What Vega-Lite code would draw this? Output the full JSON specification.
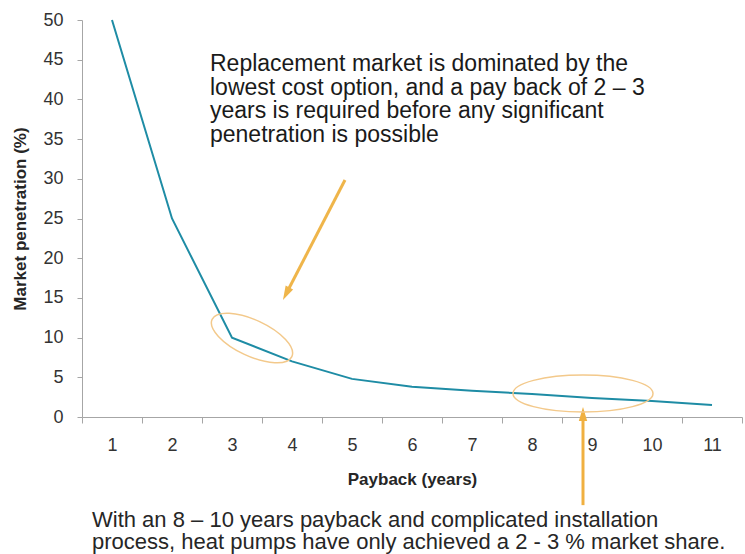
{
  "$schema": "https://vega.github.io/schema/vega-lite/v6.json",
  "width": 660,
  "height": 397,
  "autosize": "none",
  "padding": {"left": 82, "top": 20, "right": 3, "bottom": 137},
  "background": "white",
  "config": {"view": {"stroke": null}, "font": "Liberation Sans"},
  "title": {
    "text": ["With an 8 – 10 years payback and complicated  installation", "process, heat pumps have only achieved a 2 - 3 % market share."],
    "orient": "bottom",
    "anchor": "start",
    "frame": "group",
    "dx": 10,
    "offset": 3,
    "fontSize": 22,
    "fontWeight": "normal",
    "color": "#262626",
    "lineHeight": 22,
    "font": "Liberation Sans"
  },
  "layer": [
    {
      "data": {"values": [
        {"payback": 1, "penetration": 50},
        {"payback": 2, "penetration": 25},
        {"payback": 3, "penetration": 10},
        {"payback": 4, "penetration": 7},
        {"payback": 5, "penetration": 4.8},
        {"payback": 6, "penetration": 3.8},
        {"payback": 7, "penetration": 3.3},
        {"payback": 8, "penetration": 2.9},
        {"payback": 9, "penetration": 2.4},
        {"payback": 10, "penetration": 2.0},
        {"payback": 11, "penetration": 1.5}
      ]},
      "mark": {"type": "line", "color": "#1E8CA5", "strokeWidth": 2},
      "encoding": {
        "x": {
          "field": "payback", "type": "ordinal",
          "scale": {"type": "band", "paddingInner": 0, "paddingOuter": 0},
          "axis": {
            "title": "Payback (years)", "titleFontSize": 17, "titleFontWeight": "bold", "titleColor": "#262626",
            "titlePadding": 17,
            "labelAngle": 0, "labelFontSize": 18, "labelColor": "#333333", "labelPadding": 13,
            "tickBand": "extent", "tickSize": 6, "tickColor": "#A6A6A6", "domainColor": "#A6A6A6",
            "grid": false
          }
        },
        "y": {
          "field": "penetration", "type": "quantitative",
          "scale": {"domain": [0, 50]},
          "axis": {
            "orient": "left",
            "title": "Market penetration (%)", "titleFontSize": 17, "titleFontWeight": "bold", "titleColor": "#262626",
            "titlePadding": 13,
            "values": [0, 5, 10, 15, 20, 25, 30, 35, 40, 45, 50],
            "labelOverlap": false,
            "labelFontSize": 18, "labelColor": "#333333", "labelPadding": 14,
            "tickSize": 5, "tickColor": "#A6A6A6", "domainColor": "#A6A6A6",
            "grid": false
          }
        }
      }
    },
    {
      "data": {"values": [
        {"x": 2.633, "y": 43.57, "label": "Replacement market is dominated by the\nlowest cost option, and a pay back of 2 – 3\nyears is required before any significant\npenetration is possible"}
      ]},
      "mark": {"type": "text", "align": "left", "baseline": "alphabetic", "fontSize": 23, "lineHeight": 23.5, "lineBreak": "\n", "color": "#1a1a1a"},
      "encoding": {
        "x": {"field": "x", "type": "quantitative", "scale": {"domain": [0.5, 11.5]}, "axis": null},
        "y": {"field": "y", "type": "quantitative", "scale": {"domain": [0, 50]}, "axis": null},
        "text": {"field": "label"}
      }
    },
    {
      "data": {"values": [
        {"x": 4.883, "y": 29.85, "x2": 3.903, "y2": 15.52}
      ]},
      "mark": {"type": "rule", "color": "#EFB54A", "strokeWidth": 3},
      "encoding": {
        "x": {"field": "x", "type": "quantitative", "scale": {"domain": [0.5, 11.5]}, "axis": null},
        "y": {"field": "y", "type": "quantitative", "scale": {"domain": [0, 50]}, "axis": null},
        "x2": {"field": "x2"},
        "y2": {"field": "y2"}
      }
    },
    {
      "data": {"values": [
        {"x": 3.903, "y": 15.52}
      ]},
      "mark": {"type": "point", "shape": "M0,-1L0.6,1L-0.6,1Z", "size": 196, "angle": 207.3, "filled": true, "color": "#EFB54A", "opacity": 1},
      "encoding": {
        "x": {"field": "x", "type": "quantitative", "scale": {"domain": [0.5, 11.5]}, "axis": null},
        "y": {"field": "y", "type": "quantitative", "scale": {"domain": [0, 50]}, "axis": null}
      }
    },
    {
      "data": {"values": [
        {"x": 8.85, "y": -11.1, "y2": 0.38}
      ]},
      "mark": {"type": "rule", "color": "#F0B040", "strokeWidth": 3},
      "encoding": {
        "x": {"field": "x", "type": "quantitative", "scale": {"domain": [0.5, 11.5]}, "axis": null},
        "y": {"field": "y", "type": "quantitative", "scale": {"domain": [0, 50]}, "axis": null},
        "y2": {"field": "y2"}
      }
    },
    {
      "data": {"values": [
        {"x": 8.85, "y": 0.38}
      ]},
      "mark": {"type": "point", "shape": "M0,-1L0.6,1L-0.6,1Z", "size": 196, "angle": 0, "filled": true, "color": "#F0B040", "opacity": 1},
      "encoding": {
        "x": {"field": "x", "type": "quantitative", "scale": {"domain": [0.5, 11.5]}, "axis": null},
        "y": {"field": "y", "type": "quantitative", "scale": {"domain": [0, 50]}, "axis": null}
      }
    },
    {
      "data": {"values": [
        {"x": 3.333, "y": 9.95}
      ]},
      "mark": {"type": "point", "shape": "M-1,0A1,0.41,0,1,0,1,0A1,0.41,0,1,0,-1,0Z", "size": 7744, "angle": 25, "filled": false, "color": "#F3C98B", "strokeWidth": 1.5, "opacity": 1},
      "encoding": {
        "x": {"field": "x", "type": "quantitative", "scale": {"domain": [0.5, 11.5]}, "axis": null},
        "y": {"field": "y", "type": "quantitative", "scale": {"domain": [0, 50]}, "axis": null}
      }
    },
    {
      "data": {"values": [
        {"x": 8.85, "y": 2.96}
      ]},
      "mark": {"type": "point", "shape": "M-1,0A1,0.265,0,1,0,1,0A1,0.265,0,1,0,-1,0Z", "size": 19600, "angle": 0, "filled": false, "color": "#F3C98B", "strokeWidth": 1.5, "opacity": 1},
      "encoding": {
        "x": {"field": "x", "type": "quantitative", "scale": {"domain": [0.5, 11.5]}, "axis": null},
        "y": {"field": "y", "type": "quantitative", "scale": {"domain": [0, 50]}, "axis": null}
      }
    }
  ],
  "resolve": {"scale": {"x": "independent", "y": "independent"}, "axis": {"x": "independent", "y": "independent"}}
}
